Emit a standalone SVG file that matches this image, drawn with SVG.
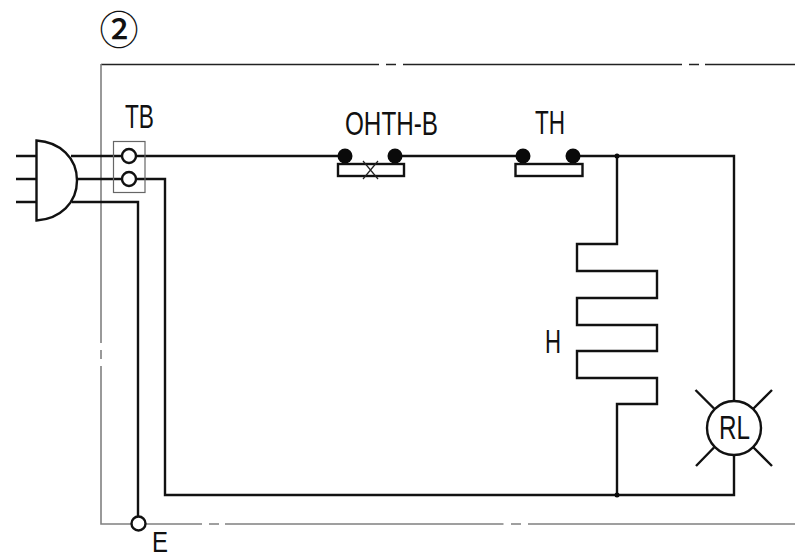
<svg xmlns="http://www.w3.org/2000/svg" width="795" height="558" viewBox="0 0 795 558">
<style>
.w{fill:none;stroke:#111;stroke-width:2.4}
.f{fill:none;stroke-width:1.6}
.s{fill:#fff;stroke:#111;stroke-width:2.4}
.d{fill:#0a0a0a}
.t{font-family:"Liberation Sans",Arial,sans-serif;font-size:34px;fill:#111}
</style>
<rect width="795" height="558" fill="#fff"/>
<g id="frame">
<path class="f" stroke="#222" d="M101 64.5H379M386 64.5H396M403 64.5H682M689 64.5H699M705 64.5H795"/>
<path class="f" stroke="#808080" d="M101 64V343M101 350V359M101 366V524H202M209 524H219M225 524H503.5M511 524H521M528 524H795"/>
</g>
<text id="title" x="119" y="44" text-anchor="middle" style="font-family:'Noto Sans CJK JP','Liberation Sans',sans-serif;font-size:39px;font-weight:500;fill:#111">②</text>
<g id="connectors">
<path class="w" d="M16 156H36M16 179H36M16 202H36"/>
<path class="w" d="M71 156H345M395 156H523M573 156H734V495H165V179H77"/>
<path class="w" d="M72 202H138V517"/>
<path class="w" d="M617 156V244H577V271H657V298H577V325H657V351H577V378H657V404H617V495"/>
</g>
<g id="plug"><path class="s" d="M36.5 140.500C60 142 77 158 77 180.500C77 203 60 219 36.500 220.500Z"/></g>
<g id="TB">
<rect x="113.500" y="141.500" width="31.500" height="51" fill="none" stroke="#666" stroke-width="1.200"/>
<circle class="s" cx="129" cy="156" r="7"/>
<circle class="s" cx="129" cy="179" r="7"/>
<text class="t" x="125" y="128" textLength="29" lengthAdjust="spacingAndGlyphs">TB</text>
</g>
<g id="OHTH-B">
<circle class="d" cx="345" cy="156" r="7.500"/><circle class="d" cx="395" cy="156" r="7.500"/>
<rect class="s" x="338" y="164" width="66" height="12"/>
<path fill="none" stroke="#222" stroke-width="1.200" d="M363 161L378 179M378 161L363 179"/>
<text class="t" x="345" y="134.500" textLength="93" lengthAdjust="spacingAndGlyphs">OHTH-B</text>
</g>
<g id="TH">
<circle class="d" cx="523" cy="156" r="7.500"/><circle class="d" cx="573" cy="156" r="7.500"/>
<rect class="s" x="515.500" y="164" width="67" height="12"/>
<text class="t" x="535" y="133.500" textLength="30" lengthAdjust="spacingAndGlyphs">TH</text>
</g>
<g id="H"><text class="t" x="545" y="352.500" textLength="16" lengthAdjust="spacingAndGlyphs">H</text></g>
<g id="junctions"><circle class="d" cx="617" cy="156" r="2.500"/><circle class="d" cx="617" cy="495" r="2.500"/></g>
<g id="RL">
<circle class="s" cx="734" cy="428" r="27"/>
<path class="w" d="M695.500 390L714 408.500M772 390L753.500 408.500M696 466L714 447.500M772 466L753.500 447.500"/>
<text class="t" x="719" y="439" textLength="31" lengthAdjust="spacingAndGlyphs">RL</text>
</g>
<g id="E">
<circle class="s" cx="138.500" cy="523.500" r="7"/>
<text class="t" x="152" y="551.500" textLength="16" lengthAdjust="spacingAndGlyphs" style="font-size:30px">E</text>
</g>
</svg>
